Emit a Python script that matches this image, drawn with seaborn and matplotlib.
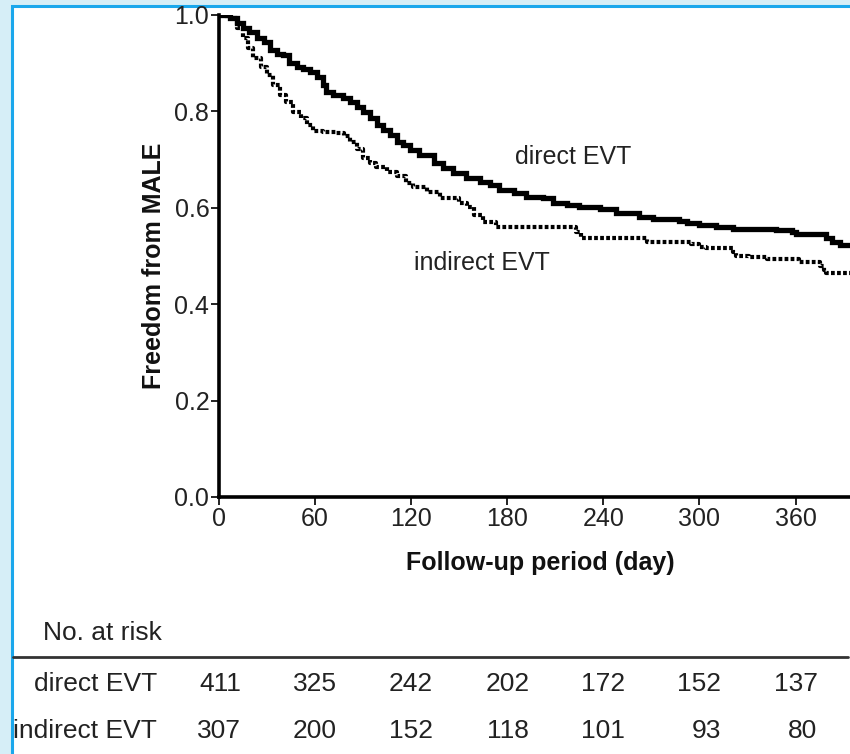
import numpy as np
import pandas as pd
import matplotlib
matplotlib.use("Agg")
import matplotlib.pyplot as plt
import matplotlib.transforms as mtransforms
from matplotlib.patches import Rectangle
from matplotlib.lines import Line2D
import seaborn as sns

# Kaplan-Meier estimates (day, freedom from MALE)
direct_days = [0, 7, 11, 15, 19, 23.5, 28, 32, 36, 40, 44, 48.5, 52.5, 57, 61, 65, 67,
               71, 77.5, 82, 86, 90, 94, 98.5, 102.5, 107, 111, 115, 119, 125, 134,
               140, 146, 154.5, 163, 169, 175, 184, 192, 202, 208.5, 217, 225, 238,
               248, 262.5, 271, 287.5, 292, 300, 310.5, 321, 348, 358, 360.5, 379,
               383, 387.5, 395]
direct_surv = [1.0, 0.993, 0.983, 0.972, 0.965, 0.952, 0.945, 0.927, 0.920, 0.917,
               0.900, 0.893, 0.889, 0.882, 0.872, 0.855, 0.841, 0.834, 0.827, 0.820,
               0.810, 0.799, 0.786, 0.772, 0.761, 0.751, 0.737, 0.730, 0.720, 0.710,
               0.692, 0.682, 0.672, 0.661, 0.654, 0.647, 0.637, 0.630, 0.623, 0.620,
               0.609, 0.606, 0.601, 0.597, 0.590, 0.580, 0.576, 0.573, 0.568, 0.564,
               0.561, 0.557, 0.553, 0.550, 0.546, 0.537, 0.530, 0.523, 0.516]

indirect_days = [0, 4, 7, 11, 15, 18, 21, 26, 30, 34, 38, 42, 46, 51, 55, 59, 65, 73,
                 78, 82, 86, 90, 94, 98, 105, 111, 117, 121, 130, 138, 150, 155, 159,
                 165, 173, 223, 226, 267, 295, 300, 304, 321, 323, 331, 342, 362, 375,
                 378, 379, 395]
indirect_surv = [1.0, 0.998, 0.993, 0.972, 0.952, 0.931, 0.910, 0.893, 0.876, 0.855,
                 0.834, 0.820, 0.799, 0.786, 0.772, 0.759, 0.758, 0.755, 0.748, 0.737,
                 0.723, 0.703, 0.692, 0.685, 0.675, 0.665, 0.651, 0.644, 0.633, 0.620,
                 0.609, 0.602, 0.585, 0.571, 0.561, 0.550, 0.537, 0.530, 0.524, 0.519,
                 0.516, 0.509, 0.500, 0.497, 0.493, 0.488, 0.479, 0.471, 0.464, 0.464]

# Number at risk table
risk_days = [0, 60, 120, 180, 240, 300, 360]
risk_direct = [411, 325, 242, 202, 172, 152, 137]
risk_indirect = [307, 200, 152, 118, 101, 93, 80]

x_ticks = [0, 60, 120, 180, 240, 300, 360]
y_ticks = [0.0, 0.2, 0.4, 0.6, 0.8, 1.0]

sns.set_theme(style="ticks")
plt.rcParams["font.family"] = ["Liberation Sans", "DejaVu Sans"]

W, H = 850, 754
fig = plt.figure(figsize=(W / 100, H / 100), dpi=100)
fig.patch.set_facecolor("#d6eef7")

# white panel with blue frame
fig.add_artist(Rectangle((12 / W, -0.05), 1.2, (H - 6) / H + 0.05,
                         transform=fig.transFigure, facecolor="white",
                         edgecolor="#1aa7ec", linewidth=2.2, zorder=0))

left, right = 219 / W, 1.0
top, bottom = (H - 15) / H, (H - 497) / H
ax = fig.add_axes([left, bottom, right - left, top - bottom])
ax.set_facecolor("none")

df_direct = pd.DataFrame({"day": direct_days, "surv": direct_surv})
df_indirect = pd.DataFrame({"day": indirect_days, "surv": indirect_surv})

sns.lineplot(data=df_direct, x="day", y="surv", ax=ax, color="black",
             linewidth=3.8, drawstyle="steps-post", solid_joinstyle="miter")
sns.lineplot(data=df_indirect, x="day", y="surv", ax=ax, color="black",
             linewidth=3.0, linestyle=(0, (0.9, 0.55)), drawstyle="steps-post")

ax.set_xlim(0, 394)
ax.set_ylim(0, 1.0)
ax.set_xticks(x_ticks)
ax.set_yticks(y_ticks)
ax.set_yticklabels([f"{v:.1f}" for v in y_ticks])
for s in ["top", "right"]:
    ax.spines[s].set_visible(False)
for s in ["left", "bottom"]:
    ax.spines[s].set_linewidth(2.6)
    ax.spines[s].set_color("black")
ax.tick_params(axis="both", length=6, width=1.4, color="#222222",
               labelsize=18, labelcolor="#222222", pad=1)

ax.set_xlabel("Follow-up period (day)", fontsize=18, fontweight="bold", color="#111111")
ax.set_ylabel("Freedom from MALE", fontsize=18, fontweight="bold", color="#111111")
ax.xaxis.set_label_coords((540 - 219) / 631, -(551 - 497) / 482)
ax.yaxis.set_label_coords((166 - 219) / 631, (497 - 266) / 482)

ax.text(221, 0.705, "direct EVT", fontsize=18, color="#222222", ha="center", va="center")
ax.text(164, 0.485, "indirect EVT", fontsize=18, color="#222222", ha="center", va="center")

# Number-at-risk table
def fy(py):
    return (H - py) / H

fig.text(43 / W, fy(633), "No. at risk", fontsize=19, color="#222222", va="center")
fig.add_artist(Line2D([13 / W, 848 / W], [fy(657), fy(657)], transform=fig.transFigure,
                      color="#333333", linewidth=2.0))
fig.text(157 / W, fy(684), "direct EVT", fontsize=19, color="#222222", ha="right", va="center")
fig.text(157 / W, fy(731), "indirect EVT", fontsize=19, color="#222222", ha="right", va="center")

blend = mtransforms.blended_transform_factory(ax.transData, fig.transFigure)
num_tr = mtransforms.offset_copy(blend, fig=fig, x=22, y=0, units="dots")
for d, n1, n2 in zip(risk_days, risk_direct, risk_indirect):
    fig.text(d, fy(684), str(n1), transform=num_tr, fontsize=19, color="#222222",
             ha="right", va="center")
    fig.text(d, fy(731), str(n2), transform=num_tr, fontsize=19, color="#222222",
             ha="right", va="center")

fig.savefig("out.png", dpi=100, facecolor=fig.get_facecolor())
